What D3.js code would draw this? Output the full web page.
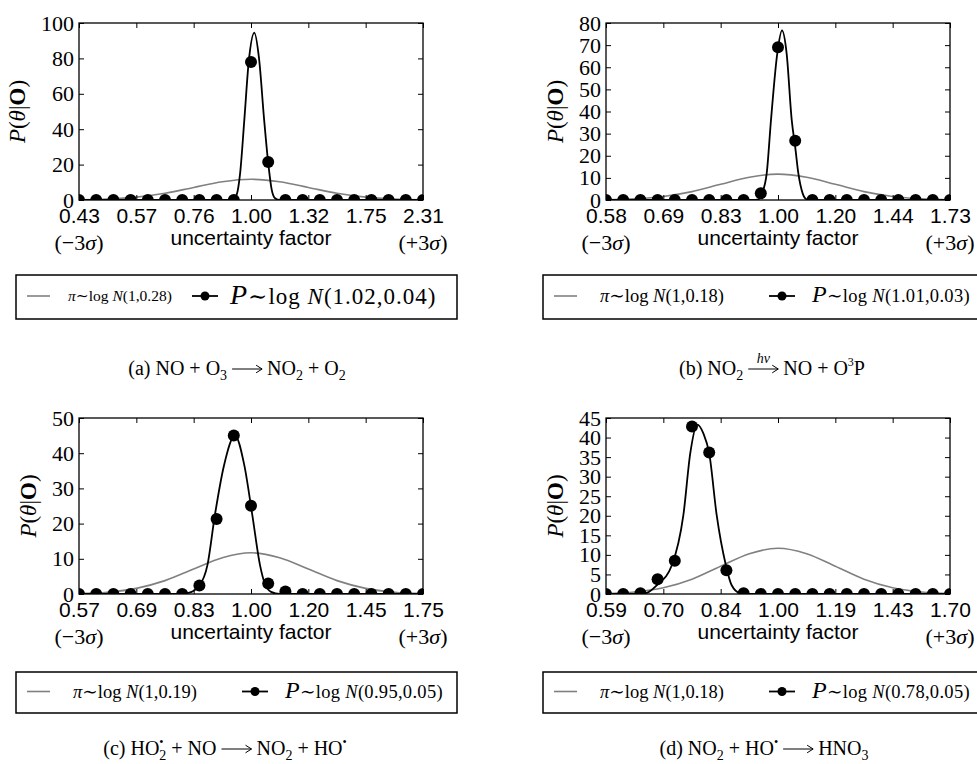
<!DOCTYPE html>
<html>
<head>
<meta charset="utf-8">
<script src="https://cdn.jsdelivr.net/npm/d3@7"></script>
<style>
body { margin: 0; background: #fff; }
svg { display: block; }
text { white-space: pre; }
</style>
</head>
<body>
<svg id="canvas" width="977" height="764"></svg>
<script>
// x is measured in prior sigmas (log space), from -3 to +3
var dotPositions = [-3, -2.7, -2.4, -2.1, -1.8, -1.5, -1.2, -0.9, -0.6, -0.3, 0, 0.3, 0.6, 0.9, 1.2, 1.5, 1.8, 2.1, 2.4, 2.7, 3];
var sigmaTicks = [-3, -2, -1, 0, 1, 2, 3];

var xLabelsA = ['0.43', '0.57', '0.76', '1.00', '1.32', '1.75', '2.31'];
var xLabelsB = ['0.58', '0.69', '0.83', '1.00', '1.20', '1.44', '1.73'];
var xLabelsC = ['0.57', '0.69', '0.83', '1.00', '1.20', '1.45', '1.75'];
var xLabelsD = ['0.59', '0.70', '0.84', '1.00', '1.19', '1.43', '1.70'];

var yTicksA = [0, 20, 40, 60, 80, 100];
var yTicksB = [0, 10, 20, 30, 40, 50, 60, 70, 80];
var yTicksC = [0, 10, 20, 30, 40, 50];
var yTicksD = [0, 5, 10, 15, 20, 25, 30, 35, 40, 45];

// posterior sample density at each dot position
var dotsA = [0, 0, 0, 0, 0, 0, 0, 0, 0, 0, 78, 21.5, 0, 0, 0, 0, 0, 0, 0, 0, 0];
var dotsB = [0, 0, 0, 0, 0, 0, 0, 0, 0, 3, 69, 26.8, 0, 0, 0, 0, 0, 0, 0, 0, 0];
var dotsC = [0, 0, 0, 0, 0, 0, 0, 2.4, 21.3, 45, 25.1, 3, 0.7, 0, 0, 0, 0, 0, 0, 0, 0];
var dotsD = [0, 0, 0.2, 3.8, 8.5, 42.8, 36.2, 6.1, 0.2, 0, 0, 0, 0, 0, 0, 0, 0, 0, 0, 0, 0];

// prior curve (grey), same shape in all four panels
var priorCurve = [[-3, 0.13], [-2.5, 0.5], [-2, 1.6], [-1.5, 3.8], [-1, 7.1], [-0.5, 10.3], [0, 11.7],
  [0.5, 10.3], [1, 7.1], [1.5, 3.8], [2, 1.6], [2.5, 0.5], [3, 0.13]];

// posterior curves (black)
var postA = [[-3, 0], [-0.42, 0], [-0.32, 0.3], [-0.25, 3], [-0.19, 15], [-0.117, 45], [-0.04, 78], [0.058, 94.5],
  [0.14, 80], [0.23, 45], [0.30, 21], [0.36, 6], [0.42, 1], [0.5, 0], [3, 0]];
var postB = [[-3, 0], [-0.45, 0], [-0.34, 0.3], [-0.28, 3], [-0.197, 12], [-0.122, 36.2], [-0.012, 66.4], [0.07, 76.6],
  [0.15, 66.4], [0.239, 36.2], [0.30, 24], [0.355, 12], [0.43, 3], [0.5, 0.3], [0.6, 0], [3, 0]];
var postC = [[-3, 0], [-1.25, 0], [-1.09, 0.3], [-0.9, 2.4], [-0.76, 8.2], [-0.63, 22.4], [-0.47, 36.6], [-0.28, 45],
  [-0.117, 36.6], [0.023, 22.4], [0.157, 8.2], [0.24, 3], [0.35, 0.6], [0.5, 0], [3, 0]];
var postD = [[-3, 0], [-2.45, 0], [-2.29, 0.3], [-2.11, 2.3], [-1.85, 7.4], [-1.65, 20.2], [-1.53, 36], [-1.41, 43.3],
  [-1.3, 41], [-1.2, 36], [-1.07, 20.2], [-0.91, 7.4], [-0.81, 2.3], [-0.66, 0.2], [-0.5, 0], [3, 0]];

var priorParams = ['1,0.28', '1,0.18', '1,0.19', '1,0.18'];
var postParams = ['1.02,0.04', '1.01,0.03', '0.95,0.05', '0.78,0.05'];

// caption pieces: n = normal, b = subscript, p = superscript, bp = sub+sup stacked, a = arrow, h = arrow with h nu
var captionA = [['(a) NO + O', 'n'], ['3', 'b'], [' ', 'n'], ['', 'a'], [' NO', 'n'], ['2', 'b'], [' + O', 'n'], ['2', 'b']];
var captionB = [['(b) NO', 'n'], ['2', 'b'], [' ', 'n'], ['hν', 'h'], [' NO + O', 'n'], ['3', 'p'], ['P', 'n']];
var captionC = [['(c) HO', 'n'], ['2', 'bp'], [' + NO ', 'n'], ['', 'a'], [' NO', 'n'], ['2', 'b'], [' + HO', 'n'], ['•', 'p']];
var captionD = [['(d) NO', 'n'], ['2', 'b'], [' + HO', 'n'], ['•', 'p'], [' ', 'n'], ['', 'a'], [' HNO', 'n'], ['3', 'b']];

var serif = '"Liberation Serif", "DejaVu Serif", serif';
var sans = '"Liberation Sans", Arial, sans-serif';
var grey = '#808080';

var svg = d3.select('#canvas');

var panels = [
  {id: 'a', left: 79, top: 23, w: 344, h: 177, yMax: 100, yTicks: yTicksA, xLabels: xLabelsA, dots: dotsA, post: postA,
   legY: 275, legH: 44, piX: -11, mkX: 113, pX: 151, piFont: 15.5, pFont: 23, pBig: 28, pSpace: 1, caption: captionA, capX: 237, capY: 375},
  {id: 'b', left: 606, top: 23, w: 344, h: 177, yMax: 80, yTicks: yTicksB, xLabels: xLabelsB, dots: dotsB, post: postB,
   legY: 275, legH: 44, piX: -6, mkX: 163, pX: 206, piFont: 18.5, pFont: 18.5, pBig: 24, pSpace: 0.3, caption: captionB, capX: 772, capY: 375},
  {id: 'c', left: 79, top: 418, w: 344, h: 176, yMax: 50, yTicks: yTicksC, xLabels: xLabelsC, dots: dotsC, post: postC,
   legY: 672, legH: 41, piX: -6, mkX: 163, pX: 206, piFont: 18.5, pFont: 18.5, pBig: 24, pSpace: 0.3, caption: captionC, capX: 225, capY: 755},
  {id: 'd', left: 606, top: 418, w: 344, h: 176, yMax: 45, yTicks: yTicksD, xLabels: xLabelsD, dots: dotsD, post: postD,
   legY: 672, legH: 41, piX: -6, mkX: 163, pX: 206, piFont: 18.5, pFont: 18.5, pBig: 24, pSpace: 0.3, caption: captionD, capX: 764, capY: 755}
];

function drawPanel(p, idx) {
  var x = d3.scaleLinear().domain([-3, 3]).range([0, p.w]);
  var y = d3.scaleLinear().domain([0, p.yMax]).range([p.h, 0]);

  var g = svg.append('g').attr('transform', 'translate(' + p.left + ',' + p.top + ')');
  g.append('clipPath').attr('id', 'clip' + p.id)
    .append('rect').attr('width', p.w).attr('height', p.h);
  var plot = g.append('g').attr('clip-path', 'url(#clip' + p.id + ')');

  var line = d3.line().x(d => x(d[0])).y(d => y(d[1])).curve(d3.curveMonotoneX);
  plot.append('path').attr('d', line(priorCurve))
    .attr('fill', 'none').attr('stroke', grey).attr('stroke-width', 1.6);
  plot.append('path').attr('d', line(p.post))
    .attr('fill', 'none').attr('stroke', '#000').attr('stroke-width', 1.8);
  plot.selectAll('circle').data(p.dots).enter().append('circle')
    .attr('cx', (d, i) => x(dotPositions[i]))
    .attr('cy', d => y(d))
    .attr('r', 6)
    .attr('fill', '#000');

  // ticks point inward on all four sides
  var xAx = g.append('g').attr('transform', 'translate(0,' + p.h + ')')
    .call(d3.axisBottom(x).tickValues(sigmaTicks).tickSizeInner(-5).tickSizeOuter(0).tickPadding(8)
      .tickFormat((d, i) => p.xLabels[i]));
  g.append('g')
    .call(d3.axisTop(x).tickValues(sigmaTicks).tickSizeInner(-5).tickSizeOuter(0).tickFormat(''));
  var yAx = g.append('g')
    .call(d3.axisLeft(y).tickValues(p.yTicks).tickSizeInner(-5).tickSizeOuter(0).tickPadding(5));
  g.append('g').attr('transform', 'translate(' + p.w + ',0)')
    .call(d3.axisRight(y).tickValues(p.yTicks).tickSizeInner(-5).tickSizeOuter(0).tickFormat(''));
  g.selectAll('.domain').remove();
  g.selectAll('.tick line').attr('stroke', '#000').attr('stroke-width', 1);
  xAx.selectAll('text').style('font-family', sans).style('font-size', '21px').attr('fill', '#000');
  yAx.selectAll('text').style('font-family', serif).style('font-size', '22px').attr('fill', '#000');

  g.append('rect').attr('width', p.w).attr('height', p.h)
    .attr('fill', 'none').attr('stroke', '#000').attr('stroke-width', 1.3);

  // y axis title P(theta|O)
  var bb = yAx.node().getBBox();
  var yt = g.append('text')
    .attr('transform', 'translate(' + (bb.x - 16) + ',' + (p.h / 2) + ') rotate(-90)')
    .attr('text-anchor', 'middle')
    .style('font-family', serif).style('font-size', '23px');
  yt.append('tspan').style('font-style', 'italic').text('P');
  yt.append('tspan').text('(');
  yt.append('tspan').style('font-style', 'italic').text('θ');
  yt.append('tspan').text('|');
  yt.append('tspan').style('font-weight', 'bold').text('O');
  yt.append('tspan').text(')');

  // x axis title and sigma markers
  g.append('text').attr('x', p.w / 2).attr('y', p.h + 45)
    .attr('text-anchor', 'middle')
    .style('font-family', sans).style('font-size', '21px')
    .text('uncertainty factor');
  [[0, '−'], [p.w, '+']].forEach(function (s) {
    var t = g.append('text').attr('x', s[0]).attr('y', p.h + 50)
      .attr('text-anchor', 'middle')
      .style('font-family', serif).style('font-size', '22px');
    t.append('tspan').text('(' + s[1] + '3');
    t.append('tspan').style('font-style', 'italic').text('σ');
    t.append('tspan').text(')');
  });

  // legend
  var lg = svg.append('g').attr('transform', 'translate(' + (p.left - 63) + ',' + p.legY + ')');
  lg.append('rect').attr('width', 441).attr('height', p.legH)
    .attr('fill', '#fff').attr('stroke', '#000').attr('stroke-width', 1.5);
  var cy = p.legH / 2 - 1;
  lg.append('line').attr('x1', 11).attr('x2', 34).attr('y1', cy).attr('y2', cy)
    .attr('stroke', grey).attr('stroke-width', 1.6);
  var pt = lg.append('text').attr('x', 63 + p.piX).attr('y', cy).attr('dy', '0.33em')
    .style('font-family', serif).style('font-size', p.piFont + 'px');
  pt.append('tspan').style('font-style', 'italic').text('π');
  pt.append('tspan').text('∼log ');
  pt.append('tspan').style('font-style', 'italic').text('N');
  pt.append('tspan').text('(' + priorParams[idx] + ')');

  lg.append('line').attr('x1', 63 + p.mkX).attr('x2', 63 + p.mkX + 26).attr('y1', cy).attr('y2', cy)
    .attr('stroke', '#000').attr('stroke-width', 1.8);
  lg.append('circle').attr('cx', 63 + p.mkX + 13).attr('cy', cy).attr('r', 4.5).attr('fill', '#000');
  var qt = lg.append('text').attr('x', 63 + p.pX).attr('y', cy).attr('dy', '0.33em')
    .style('font-family', serif).style('font-size', p.pFont + 'px')
    .style('letter-spacing', p.pSpace + 'px');
  qt.append('tspan').style('font-style', 'italic').style('font-size', p.pBig + 'px').text('P');
  qt.append('tspan').text('∼log ');
  qt.append('tspan').style('font-style', 'italic').text('N');
  qt.append('tspan').text('(' + postParams[idx] + ')');

  drawCaption(p.caption, p.capX, p.capY);
}

function drawCaption(parts, cx, base) {
  var cg = svg.append('g');
  var cur = 0;
  function txt(s, size, dy, style) {
    var t = cg.append('text').attr('x', cur).attr('y', dy)
      .style('font-family', serif).style('font-size', size + 'px').text(s);
    if (style) t.style('font-style', style);
    return t;
  }
  function arrow(len) {
    cg.append('path')
      .attr('d', 'M' + cur + ',-6H' + (cur + len) + 'M' + (cur + len - 6) + ',-9.8L' + (cur + len) + ',-6L' + (cur + len - 6) + ',-2.2')
      .attr('fill', 'none').attr('stroke', '#000').attr('stroke-width', 1);
  }
  parts.forEach(function (pc) {
    var s = pc[0], k = pc[1];
    if (k === 'n') {
      cur += txt(s, 20, 0).node().getComputedTextLength();
    } else if (k === 'b') {
      cur += txt(s, 14, 4.5).node().getComputedTextLength();
    } else if (k === 'p') {
      cur += txt(s, 12, -9).node().getComputedTextLength();
    } else if (k === 'bp') {
      var w1 = txt(s, 14, 4.5).node().getComputedTextLength();
      var w2 = txt('•', 12, -9).node().getComputedTextLength();
      cur += Math.max(w1, w2);
    } else if (k === 'a') {
      arrow(30);
      cur += 30;
    } else if (k === 'h') {
      arrow(30);
      cg.append('text').attr('x', cur + 15).attr('y', -12).attr('text-anchor', 'middle')
        .style('font-family', serif).style('font-size', '14px').style('font-style', 'italic').text(s);
      cur += 30;
    }
  });
  var bw = cg.node().getBBox();
  cg.attr('transform', 'translate(' + (cx - bw.x - bw.width / 2) + ',' + base + ')');
}

panels.forEach(drawPanel);
</script>
</body>
</html>
